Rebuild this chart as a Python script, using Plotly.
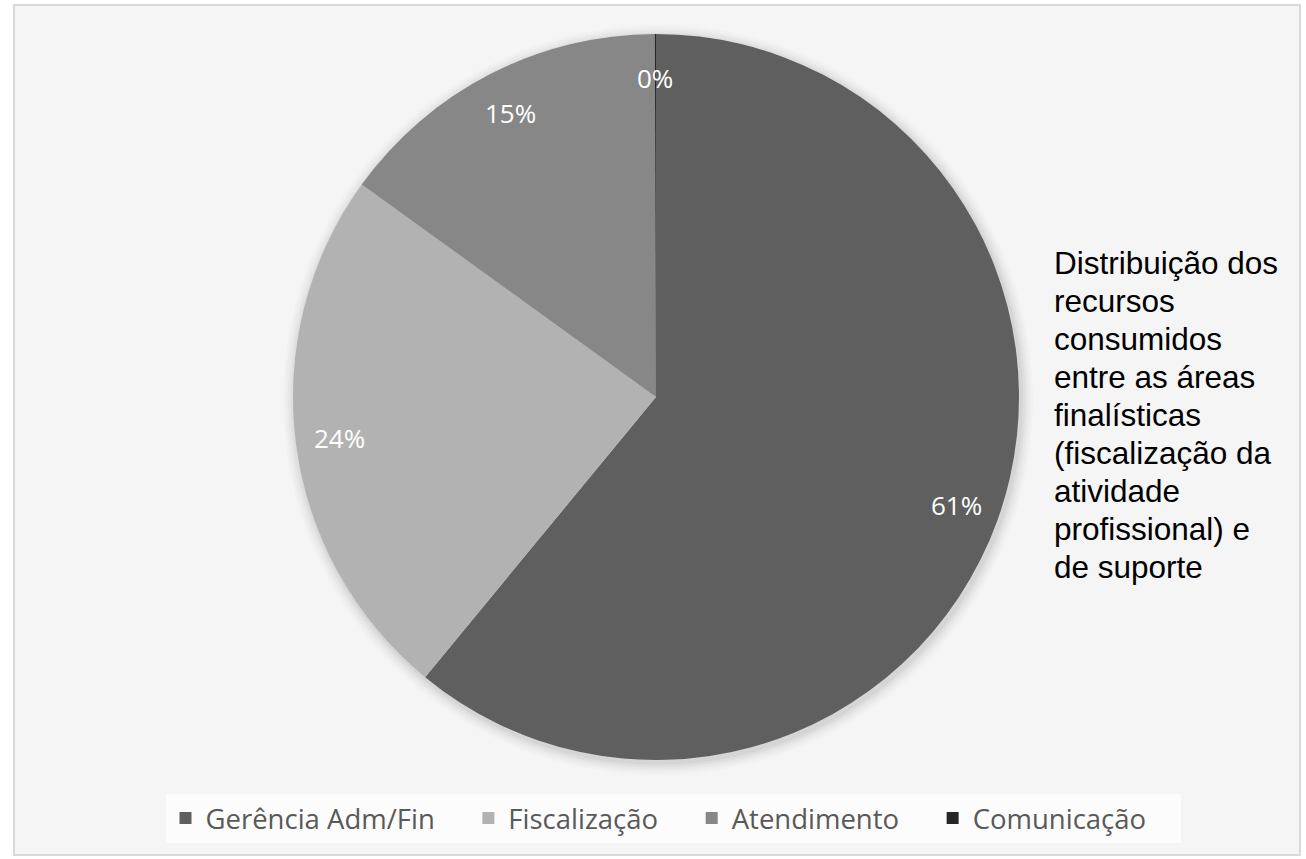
import math
import plotly.graph_objects as go

# ---- data ----
categories = ["Gerência Adm/Fin", "Fiscalização", "Atendimento", "Comunicação"]
values = [61, 24, 15, 0.05]
colors = ["#5f5f5f", "#b2b2b2", "#878787", "#262626"]
title_lines = ["Distribuição dos", "recursos", "consumidos", "entre as áreas",
               "finalísticas", "(fiscalização da", "atividade",
               "profissional) e", "de suporte"]

# ---- layout geometry (pixels) ----
W, H = 1306, 859
cx, cy, R = 656, 397, 363

dom_x = [(cx - R) / W, (cx + R) / W]
dom_y = [1 - (cy + R) / H, 1 - (cy - R) / H]

pad = "\u00a0" * 4
fig = go.Figure()
fig.add_trace(go.Pie(
    labels=[c + pad for c in categories],
    values=values,
    sort=False,
    direction="clockwise",
    rotation=0,
    marker=dict(colors=colors, line=dict(width=0)),
    textinfo="none",
    hoverinfo="label+percent",
    domain=dict(x=dom_x, y=dom_y),
    showlegend=True,
))

# percentage labels placed near the outer end of each slice (computed from data)
total = sum(values)
annotations = []
cum = 0.0
for v in values:
    mid = (cum + v / 2) / total * 2 * math.pi
    cum += v
    r = 0.88 * R
    px = cx + r * math.sin(mid)
    py = cy - r * math.cos(mid)
    annotations.append(dict(
        x=px / W, y=1 - py / H, xref="paper", yref="paper",
        text=f"{round(v / total * 100)}%", showarrow=False,
        font=dict(family="Open Sans", size=26, color="white"),
        xanchor="center", yanchor="middle"))

# title block, one line per annotation for exact line spacing
line_h = 38
first_y = 263
for i, t in enumerate(title_lines):
    annotations.append(dict(
        x=1052 / W, y=1 - (first_y + i * line_h) / H, xref="paper", yref="paper",
        text=t, showarrow=False, align="left",
        xanchor="left", yanchor="middle",
        font=dict(family="Liberation Sans, Arial", size=31.5, color="black")))

shapes = [dict(type="rect", xref="paper", yref="paper",
               x0=14 / W, x1=1300 / W, y0=1 - 855 / H, y1=1 - 5 / H,
               fillcolor="#f5f5f5", line=dict(color="#d9d9d9", width=2),
               layer="below")]
# soft shadow around pie
for i, a in enumerate([0.035, 0.03, 0.025, 0.02, 0.015]):
    rr = R + 2 + i * 2.5
    shapes.append(dict(type="circle", xref="paper", yref="paper",
                       x0=(cx - rr + 2) / W, x1=(cx + rr + 2) / W,
                       y0=1 - (cy + rr + 3) / H, y1=1 - (cy - rr + 3) / H,
                       fillcolor=f"rgba(0,0,0,{a})", line=dict(width=0),
                       layer="below"))

fig.update_layout(
    width=W, height=H,
    margin=dict(l=0, r=0, t=0, b=0),
    paper_bgcolor="white",
    plot_bgcolor="white",
    shapes=shapes,
    annotations=annotations,
    legend=dict(orientation="h", x=673 / W, xanchor="center",
                y=1 - 818 / H, yanchor="middle",
                bgcolor="rgba(255,255,255,0.7)", borderwidth=0,
                font=dict(family="Open Sans", size=27.5, color="#595959"),
                itemclick=False, itemdoubleclick=False),
)

fig.write_html("out.html",
               config={"displayModeBar": False},
               post_script="document.body.style.margin='0';document.body.style.overflow='hidden';")
